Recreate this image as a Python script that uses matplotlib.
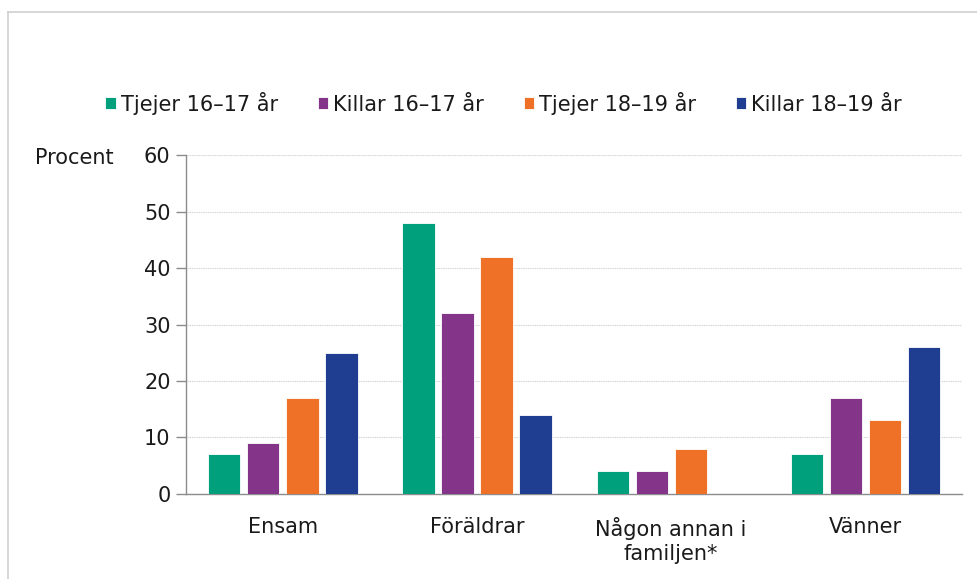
import numpy as np
import matplotlib
matplotlib.use("Agg")
import matplotlib.pyplot as plt
from matplotlib.lines import Line2D

# Data
categories = ["Ensam", "Föräldrar", "Någon annan i\nfamiljen*", "Vänner"]
series = ["Tjejer 16–17 år", "Killar 16–17 år", "Tjejer 18–19 år", "Killar 18–19 år"]
tjejer_16_17 = [7, 48, 4, 7]
killar_16_17 = [9, 32, 4, 17]
tjejer_18_19 = [17, 42, 8, 13]
killar_18_19 = [25, 14, np.nan, 26]
colors = ["#00A07D", "#84358A", "#EE7127", "#1F3D91"]

values = [tjejer_16_17, killar_16_17, tjejer_18_19, killar_18_19]

plt.rcParams['font.family'] = ['DejaVu Sans']
fig = plt.figure(figsize=(9.78, 5.79), dpi=100)
ax = fig.add_axes([0.190, 0.147, 0.794, 0.585])

x = np.arange(len(categories))
slot = 0.201
width = 0.166
for i, (name, vals, col) in enumerate(zip(series, values, colors)):
    ax.bar(x + (i - 1.5) * slot, vals, width, color=col, label=name,
           edgecolor="white", linewidth=0.6, zorder=3)

ax.set_xlim(-0.5, len(categories) - 0.5)
ax.set_ylim(0, 60)
ax.set_yticks(range(0, 61, 10))
ax.set_xticks(x)
ax.set_xticklabels(categories, fontsize=15, color="#1a1a1a", linespacing=1.2)
ax.tick_params(axis="x", length=0, pad=17)
ax.tick_params(axis="y", labelsize=15, length=7, width=1.0, pad=4,
               colors="#8c8c8c", labelcolor="#1a1a1a")
ax.yaxis.grid(True, color="#d4d4d4", linestyle=(0, (1, 0.6)), linewidth=0.8, zorder=0)
ax.set_axisbelow(True)
for s in ["top", "right"]:
    ax.spines[s].set_visible(False)
for s in ["left", "bottom"]:
    ax.spines[s].set_color("#8c8c8c")
    ax.spines[s].set_linewidth(1.0)

fig.text(0.036, 0.727, "Procent", fontsize=15, color="#1a1a1a", va="center", ha="left")

leg = fig.legend(loc="center", bbox_to_anchor=(0.515, 0.822), ncol=4, frameon=False,
                 fontsize=15, handlelength=0.5, handleheight=0.5, handletextpad=0.25,
                 columnspacing=1.9)
for t in leg.get_texts():
    t.set_color("#1a1a1a")

# outer frame (only left and top edges visible in the crop)
fig.add_artist(Line2D([0.008, 0.008], [0, 0.979], color="#cfcfcf", linewidth=1.2))
fig.add_artist(Line2D([0.008, 1.0], [0.979, 0.979], color="#cfcfcf", linewidth=1.2))

fig.savefig("out.png", dpi=100)
